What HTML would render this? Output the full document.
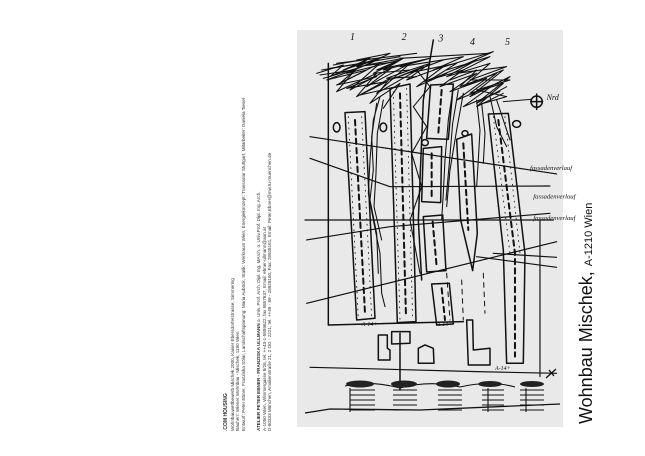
<!DOCTYPE html>
<html><head><meta charset="utf-8"><style>
html,body{margin:0;padding:0;background:#fff;width:645px;height:456px;overflow:hidden;position:relative;font-family:"Liberation Sans",sans-serif}
.rot{position:absolute;transform-origin:0 0;transform:rotate(-90deg);white-space:nowrap;color:#333}
.s{font-size:4.6px;line-height:5.6px}
</style></head><body>
<div class="rot s" style="left:223px;top:431px">
<b style="font-size:5px">.COM HOUSING</b><br>
Wohnbauwettbewerb Mischek 2000, Kaiser Ebersdorferstrasse, Simmering<br>
Bauherr: Wiener Wohnbau - Mischek, 1190 Wien<br>
Entwurf: Peter Ebner, Franziska Sölar, Landschaftsplanung: Maria Auböck, Statik: Werkraum Wien, Energiekonzept: Transsolar Stuttgart, Mitarbeiter: Daniela Tiesel
</div>
<div class="rot s" style="left:256px;top:431px">
<b>ATELIER PETER EBNER - FRANZISKA ULLMANN</b> o. Univ. Prof. Arch. Dipl. Ing. MArch. o. Univ.Prof. Dipl. Ing. Arch.<br>
A-1050 Wien, Wimmergasse 8/26, tel. ++43-1-5859622, fax 5857637, Email: ebner-ullmann@aon.at<br>
D-80333 München, Amalienstraße 21, 2 OG - 2221, tel. ++49 - 89 - 28928160, Fax: 28928161, Email: Peter.Ebner@mw.tu-muenchen.de
</div>
<div class="rot" style="left:576px;top:424px;font-size:18px;color:#111;line-height:20px">Wohnbau Mischek, <span style="font-size:11px">A-1210 Wien</span></div>
<svg width="645" height="456" style="position:absolute;left:0;top:0">
<rect x="297" y="30" width="266" height="397" fill="#e9e9e9"/>
<g transform="translate(290,20) scale(0.3333)" fill="none" stroke="#111" stroke-width="4.5" stroke-linecap="round" stroke-linejoin="round">
<g font-family="Liberation Serif" font-style="italic" font-size="30" fill="#111" stroke="none">
<text x="180" y="60">1</text><text x="335" y="60">2</text><text x="445" y="65">3</text><text x="540" y="75">4</text><text x="645" y="75">5</text>
<text x="770" y="240" font-size="24">Nrd</text>
<text x="720" y="450" font-size="20">fassadenverlauf</text>
<text x="730" y="535" font-size="20">fassadenverlauf</text>
<text x="730" y="600" font-size="20">fassadenverlauf</text>
<text x="215" y="918" font-size="18">A-14+</text><text x="440" y="918" font-size="18">A-14+</text><text x="615" y="1050" font-size="18">A-14+</text>
</g>
<path d="M430 60 L400 240 L385 600 L395 780"/>
<path d="M115 130 L115 915 L520 905"/>
<path d="M165 278 L225 275 L255 895 L200 900 Z"/>
<path d="M300 205 L360 192 L378 905 L322 908 Z"/>
<path d="M422 195 L490 192 L475 358 L410 355 Z"/>
<path d="M400 385 L455 380 L452 548 L395 545 Z"/>
<path d="M400 590 L458 585 L468 752 L410 756 Z"/>
<path d="M425 792 L478 790 L490 912 L440 915 Z"/>
<path d="M500 358 L545 342 L562 640 L548 752 L512 600 Z"/>
<path d="M595 282 L655 280 L705 700 L700 1030 L650 1030 L640 690 Z"/>
<path d="M530 900 L548 900 L550 990 L600 985 L600 1035 L535 1035 Z"/>
<path d="M265 945 L292 945 L292 985 L300 990 L300 1020 L265 1020 Z"/>
<path d="M305 935 L360 935 L360 970 L305 972 Z"/>
<path d="M385 985 L405 975 L430 985 L432 1030 L385 1030 Z"/>
<path d="M330 940 L330 1110"/>
<path d="M60 350 L800 462" stroke-width="3.5"/>
<path d="M60 415 L300 500 L780 498" stroke-width="3.5"/>
<path d="M45 600 L790 600" stroke-width="3.5"/>
<path d="M50 660 L300 620 L780 580" stroke-width="3.5"/>
<path d="M50 850 L800 665" stroke-width="3.5"/>
<path d="M560 710 L800 742" stroke-width="3.5"/>
<path d="M610 700 L800 712" stroke-width="3.5"/>
<path d="M750 600 L750 1070" stroke-width="3.5"/>
<path d="M60 1042 L300 1048 L560 1055 L800 1060" stroke-width="3.5"/>
<g stroke-dasharray="16 12" stroke-width="6">
<path d="M195 300 L225 880"/><path d="M330 220 L348 890"/><path d="M455 210 L445 340"/><path d="M425 400 L425 530"/><path d="M428 605 L440 740"/><path d="M455 805 L465 900"/><path d="M520 370 L535 630"/><path d="M625 300 L675 700 L675 1010"/>
</g>
<g stroke-dasharray="14 14" stroke-width="3">
<path d="M470 760 L480 900"/><path d="M515 780 L520 900"/><path d="M580 760 L585 880"/>
</g>
<g stroke-width="2.5" stroke-dasharray="3 14">
<path d="M175 290 L205 895"/><path d="M215 290 L245 890"/><path d="M310 215 L330 900"/><path d="M350 205 L368 900"/><path d="M610 290 L660 700"/><path d="M645 290 L690 700"/>
</g>
<circle cx="740" cy="245" r="17"/><path d="M740 222 L740 268 M722 245 L758 245"/>
<path d="M640 245 L722 238" stroke-width="3"/>
<ellipse cx="140" cy="322" rx="10" ry="14"/><ellipse cx="280" cy="322" rx="10" ry="13"/><ellipse cx="405" cy="368" rx="10" ry="9"/><ellipse cx="525" cy="340" rx="9" ry="8"/><ellipse cx="680" cy="312" rx="12" ry="10"/>
<g stroke-width="3.2">
<path d="M80 160 L160 135 L120 170 L230 120 L150 190 L270 130 L180 210 L310 140 L230 200 L360 130 L260 220 L400 140 L300 180 L460 120 L350 160 L500 130 L420 180 L560 120 L470 170 L600 130 L520 200 L640 150 L540 230 L660 170 L560 250 L650 200"/>
<path d="M100 175 L200 145 L140 215 L260 160 L200 230 L300 175 L240 250 L330 190 L280 265"/>
<path d="M120 145 L250 125 L170 160 L330 120 L260 150 L420 115 L330 140 L520 110 L430 150 L610 95 L500 145"/>
<path d="M90 165 L190 150 L110 180 L230 150 L140 195 L260 170 L170 205 L290 185 L210 225 L320 200"/>
<path d="M130 135 L240 115 L160 150 L280 110 L200 140 L320 125 L250 160 L360 150 L290 175 L380 170"/>
<path d="M330 160 L420 130 L350 180 L460 140 L380 200 L470 160 L400 185 L520 150 L450 200 L560 160 L480 215 L590 175 L500 240 L610 195 L520 260 L630 215"/>
<path d="M470 150 L600 110 L500 160 L650 140 L540 180 L660 180 L560 210 L650 230 L580 250"/>
<path d="M200 120 L300 100 L230 135 L340 115 L280 150 L400 120"/>
<path d="M380 150 L420 200 L370 260 L410 320 L365 400 L395 500 L360 600 L390 760"/>
<path d="M270 230 L250 300 L240 420 L235 520 L250 600 L270 700 L275 820 L285 860"/>
<path d="M260 250 L245 350 L250 450 L240 540 L260 640 L265 760"/>
<path d="M280 240 L262 340 L258 460 L252 560 L275 660"/>
<path d="M490 200 L475 300 L465 420 L460 520 L455 600"/>
<path d="M505 210 L488 310 L478 430 L468 540"/>
<path d="M520 220 L500 330 L480 450 L470 560"/>
<path d="M560 240 L570 330 L565 420 L560 500"/>
<path d="M575 250 L585 340 L580 430"/>
<path d="M600 230 L620 320 L650 380"/>
<path d="M620 240 L640 300 L660 360"/>
<path d="M480 180 L560 150 L510 200 L620 160 L540 220 L640 190 L560 260 L640 220"/>
<path d="M95 150 L330 110 M140 130 L380 100 M330 115 L600 100"/>
</g>
</g>
<g fill="none" stroke="#111" stroke-width="1.3">
<path d="M305 413 L330 409 L420 410 L560 404"/>
<path d="M546 378 L556 369 M549 370 L554 376"/>
<g stroke-width="1.1">
<path d="M350 390 h25 M350 395 h25 M350 400 h25 M350 405 h25 M350 410 h25 M350 388 v24"/>
<path d="M393 390 h24 M393 395 h24 M393 400 h24 M393 405 h24 M393 410 h24"/>
<path d="M438 390 h24 M438 395 h24 M438 400 h24 M438 405 h24 M438 410 h24"/>
<path d="M482 390 h22 M482 395 h22 M482 400 h22 M482 405 h22 M482 410 h22 M488 388 v24"/>
<path d="M520 390 h24 M520 395 h24 M520 400 h24 M520 405 h24 M520 410 h24 M526 388 v24"/>
<path d="M345 386 Q370 380 400 388 Q430 380 460 387 Q490 380 515 387"/>
</g>
</g>
<g fill="#222">
<ellipse cx="360" cy="384" rx="14" ry="3.5"/><ellipse cx="404" cy="384" rx="13" ry="3.5"/><ellipse cx="448" cy="384" rx="12" ry="3.5"/><ellipse cx="490" cy="384" rx="12" ry="3"/><ellipse cx="532" cy="384" rx="12" ry="3"/>
</g>
</svg>
</body></html>
